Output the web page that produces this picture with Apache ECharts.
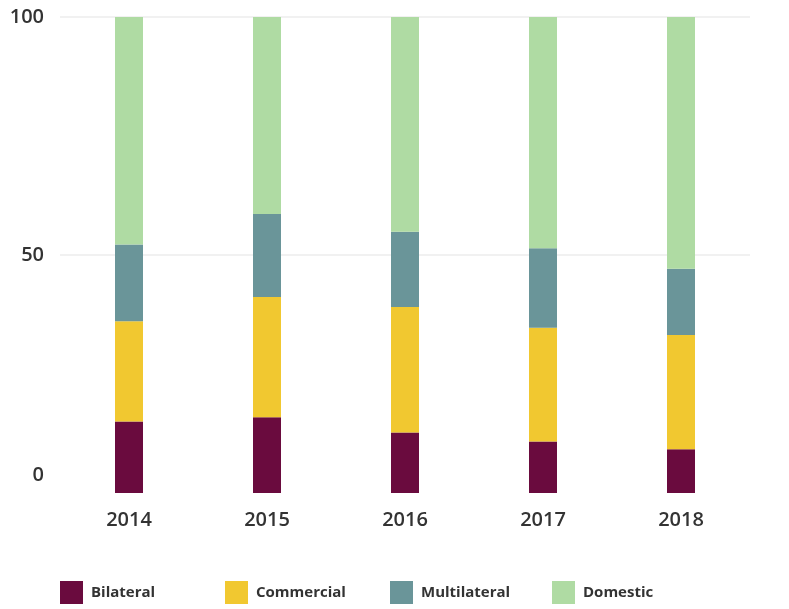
<!DOCTYPE html>
<html>
<head>
<meta charset="utf-8">
<script src="https://cdn.jsdelivr.net/npm/echarts@6/dist/echarts.min.js"></script>
<style>html,body{margin:0;padding:0;background:#fff}#c{width:789px;height:609px}</style>
</head>
<body>
<div id="c"></div>
<script>
var years = ['2014', '2015', '2016', '2017', '2018'];
var bilateral = [15.0, 15.9, 12.7, 10.8, 9.2];
var commercial = [21.1, 25.3, 26.4, 23.9, 24.0];
var multilateral = [16.1, 17.4, 15.8, 16.7, 13.9];
var domestic = [47.8, 41.4, 45.1, 48.6, 52.9];
var yTicks = [0, 50, 100];

var colors = ['#6a0b3e', '#f1c830', '#6a9599', '#afdba3'];
var names = ['Bilateral', 'Commercial', 'Multilateral', 'Domestic'];
var dataSets = [bilateral, commercial, multilateral, domestic];
var legendLefts = [60, 225, 390, 552];

var chart = echarts.init(document.getElementById('c'));
chart.setOption({
  animation: false,
  color: colors,
  grid: { left: 60, right: 39, top: 17, bottom: 116 },
  legend: names.map(function (n, i) {
    return {
      left: legendLefts[i], top: 581, padding: 0,
      itemWidth: 23, itemHeight: 23,
      icon: 'rect',
      textStyle: { fontFamily: 'Open Sans', fontWeight: 'bold', fontSize: 15, color: '#333', padding: [0, 0, 0, 3] },
      data: [n]
    };
  }),
  xAxis: {
    type: 'category',
    data: years,
    axisLine: { show: false },
    axisTick: { show: false },
    axisLabel: { margin: 17, fontFamily: 'Open Sans', fontWeight: 600, fontSize: 20, color: '#333' }
  },
  yAxis: {
    type: 'value',
    min: yTicks[0], max: yTicks[yTicks.length - 1], interval: 50,
    axisLine: { show: false },
    axisTick: { show: false },
    splitLine: { lineStyle: { color: ['rgba(0,0,0,0)', '#ededed', '#ededed'], width: 1.5 } },
    axisLabel: {
      margin: 16,
      fontFamily: 'Open Sans', fontWeight: 600, fontSize: 20, color: '#333',
      formatter: function (v) { return v === 0 ? '{z|0}' : String(v); },
      rich: { z: { fontFamily: 'Open Sans', fontWeight: 600, fontSize: 20, color: '#333', padding: [0, 0, 36, 0] } }
    }
  },
  series: dataSets.map(function (d, i) {
    return { name: names[i], type: 'bar', stack: 'total', barWidth: 28, data: d };
  })
});
</script>
</body>
</html>
